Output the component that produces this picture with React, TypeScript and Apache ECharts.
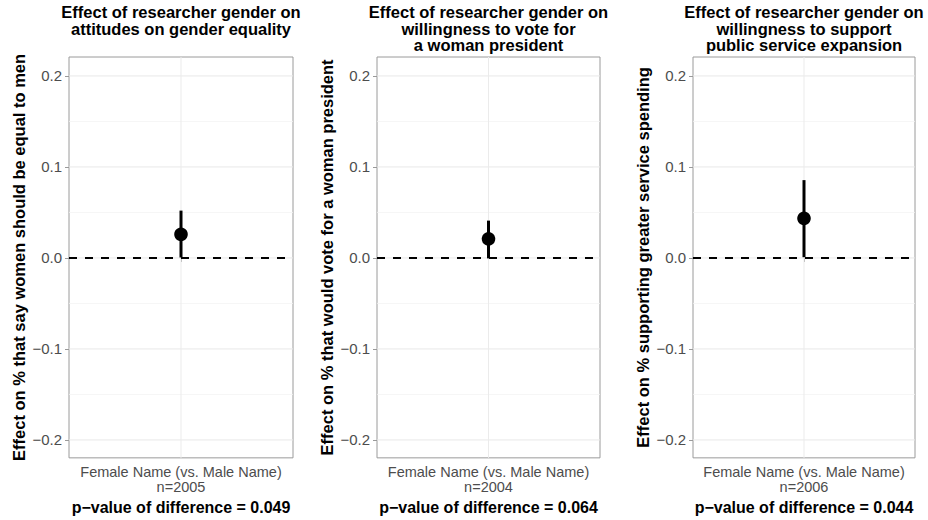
import React, { useEffect, useRef } from "react";
import * as echarts from "echarts";

const panelTitles = [
  ["Effect of researcher gender on", "attitudes on gender equality"],
  ["Effect of researcher gender on", "willingness to vote for", "a woman president"],
  ["Effect of researcher gender on", "willingness to support", "public service expansion"],
];
const yAxisTitles = [
  "Effect on % that say women should be equal to men",
  "Effect on % that would vote for a woman president",
  "Effect on % supporting greater service spending",
];
const categories = ["Female Name (vs. Male Name)"];
const sampleSizes = [2005, 2004, 2006];
const pValues = ["0.049", "0.064", "0.044"];
const estimates = [0.026, 0.021, 0.0435];
const lowerBounds = [0.0005, -0.0005, 0.0008];
const upperBounds = [0.052, 0.041, 0.0855];
const yTicks = [-0.2, -0.1, 0, 0.1, 0.2];
const yMinorTicks = [-0.15, -0.05, 0.05, 0.15];
const zeroLine = 0;

const FONT = "'Liberation Sans', Arial, Helvetica, sans-serif";
const gridBoxes = [
  { left: 69, width: 224 },
  { left: 377, width: 223 },
  { left: 693, width: 222 },
];
const GRID_TOP = 57;
const GRID_H = 403;
const TITLE_SIZE = 16.5;
const TITLE_STEP = 16.6;

function fmtTick(v: number) {
  const s = Math.abs(v).toFixed(1);
  return v < -1e-9 ? "\u2212" + s : s;
}

export default function App() {
  const ref = useRef<HTMLDivElement>(null);
  useEffect(() => {
    if (!ref.current) return;
    const chart = echarts.init(ref.current, undefined, { renderer: "svg" });

    const grid: any[] = [];
    const xAxis: any[] = [];
    const yAxis: any[] = [];
    const series: any[] = [];
    const graphic: any[] = [];

    gridBoxes.forEach((g, i) => {
      grid.push({
        left: g.left,
        width: g.width,
        top: GRID_TOP,
        height: GRID_H,
        show: true,
        borderColor: "#9a9a9a",
        borderWidth: 1,
        backgroundColor: "transparent",
      });
      xAxis.push({
        type: "category",
        gridIndex: i,
        data: categories,
        axisLine: { show: false },
        axisTick: { show: true, alignWithLabel: true, length: 4, lineStyle: { color: "#9a9a9a" } },
        splitLine: { show: false },
        axisLabel: {
          color: "#4d4d4d",
          fontFamily: FONT,
          fontSize: 14.5,
          lineHeight: 14.5,
          margin: 7,
          formatter: (v: string) => `${v}\nn=${sampleSizes[i]}`,
        },
        name: `p\u2212value of difference = ${pValues[i]}`,
        nameLocation: "middle",
        nameGap: 36.5,
        nameTextStyle: { color: "#000", fontWeight: "bold", fontSize: 16, lineHeight: 16, fontFamily: FONT },
      });
      yAxis.push({
        type: "value",
        gridIndex: i,
        min: -0.2197,
        max: 0.2208,
        axisLine: { show: false },
        axisTick: {
          show: true,
          length: 4,
          customValues: yTicks,
          lineStyle: { color: "#9a9a9a" },
        },
        axisLabel: {
          customValues: yTicks,
          color: "#4d4d4d",
          fontFamily: FONT,
          fontSize: 15,
          margin: 7,
          formatter: (v: number) => fmtTick(v),
        },
        splitLine: { show: false },
        name: yAxisTitles[i],
        nameLocation: "middle",
        nameRotate: 90,
        nameGap: 42,
        nameTextStyle: { color: "#000", fontWeight: "bold", fontSize: 16.5, fontFamily: FONT },
      });

      const gridData: any[] = [];
      yTicks.forEach((v) => gridData.push([0, v, 0]));
      yMinorTicks.forEach((v) => gridData.push([0, v, 1]));
      gridData.push([0, 0, 2]);
      gridData.push([0, zeroLine, 3]);

      series.push({
        type: "custom",
        xAxisIndex: i,
        yAxisIndex: i,
        z: 1,
        silent: true,
        encode: { x: 0, y: 1 },
        data: gridData,
        renderItem: (params: any, api: any) => {
          const cs = params.coordSys;
          const kind = api.value(2);
          const p = api.coord([api.value(0), api.value(1)]);
          if (kind === 2) {
            return {
              type: "line",
              shape: { x1: p[0], y1: cs.y, x2: p[0], y2: cs.y + cs.height },
              style: { stroke: "#ebebeb", lineWidth: 1 },
            };
          }
          if (kind === 3) {
            return {
              type: "line",
              shape: { x1: cs.x, y1: p[1], x2: cs.x + cs.width, y2: p[1] },
              style: { stroke: "#000", lineWidth: 2, lineDash: [8, 8] },
            };
          }
          return {
            type: "line",
            shape: { x1: cs.x, y1: p[1], x2: cs.x + cs.width, y2: p[1] },
            style: { stroke: kind === 0 ? "#e8e8e8" : "#f3f3f3", lineWidth: kind === 0 ? 1 : 0.8 },
          };
        },
      });

      series.push({
        type: "custom",
        xAxisIndex: i,
        yAxisIndex: i,
        z: 5,
        encode: { x: 0, y: 1 },
        data: [[0, estimates[i], lowerBounds[i], upperBounds[i]]],
        renderItem: (_params: any, api: any) => {
          const x = api.value(0);
          const mid = api.coord([x, api.value(1)]);
          const lo = api.coord([x, api.value(2)]);
          const hi = api.coord([x, api.value(3)]);
          return {
            type: "group",
            children: [
              {
                type: "line",
                shape: { x1: hi[0], y1: hi[1], x2: lo[0], y2: lo[1] },
                style: { stroke: "#000", lineWidth: 3 },
              },
              {
                type: "circle",
                shape: { cx: mid[0], cy: mid[1], r: 6.8 },
                style: { fill: "#000" },
              },
            ],
          };
        },
      });

      panelTitles[i].forEach((line, k) => {
        graphic.push({
          type: "text",
          x: g.left + g.width / 2,
          y: 12 + k * TITLE_STEP,
          style: {
            text: line,
            fill: "#000",
            fontFamily: FONT,
            fontWeight: "bold",
            fontSize: TITLE_SIZE,
            lineHeight: TITLE_SIZE,
            align: "center",
            verticalAlign: "middle",
          },
        });
      });
    });

    chart.setOption({
      animation: false,
      backgroundColor: "#fff",
      grid,
      xAxis,
      yAxis,
      series,
      graphic,
    });
    return () => chart.dispose();
  }, []);

  return (
    <div
      ref={ref}
      style={{ position: "fixed", left: 0, top: 0, width: 928, height: 520 }}
    />
  );
}
